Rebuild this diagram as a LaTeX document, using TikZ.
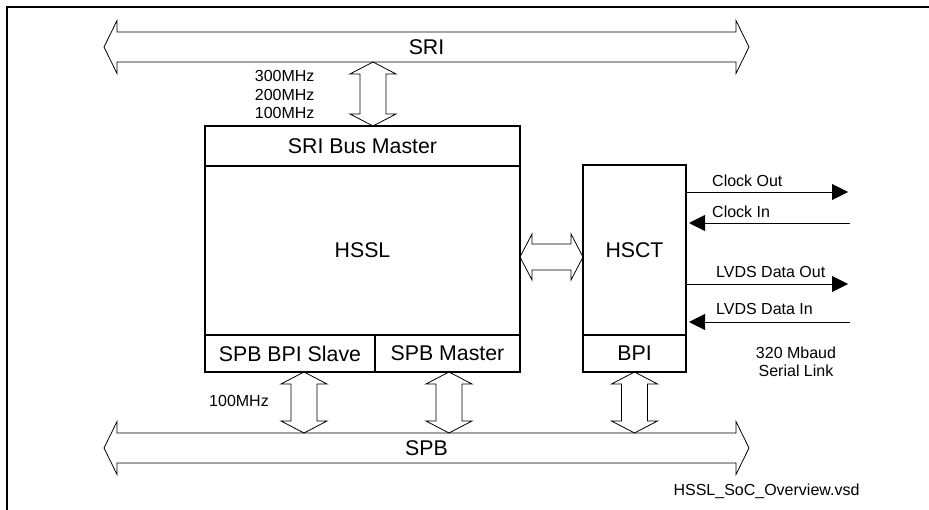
\documentclass[tikz,border=0pt]{standalone}
\usepackage{fontspec}
\setmainfont{Liberation Sans}
\usepackage{tikz}
\usetikzlibrary{positioning,calc,arrows.meta}

\begin{document}
\begin{tikzpicture}[
  x=1pt, y=-1pt,
  every node/.style={font=\fontsize{16}{18.5}\selectfont},
  big/.style={font=\fontsize{21.3}{25}\selectfont},
  box/.style={draw, line width=1.5pt, inner sep=0pt, outer sep=0pt, big},
  bus/.style={inner sep=0pt, outer sep=0pt, minimum width=619pt, minimum height=30pt, big},
  blockarrow/.style={draw, line width=0.8pt, line join=miter},
  sig/.style={line width=0.9pt, -{Triangle[length=16pt, width=16pt]}},
  frame/.style={line width=1.5pt}
]
  \useasboundingbox (0,0) rectangle (929,510);
  \draw[frame] (7,510) -- (7,7) -- (929,7);

  % buses
  \node[bus] (sri) at (426.5,47)  {SRI};
  \node[bus] (spb) at (426.5,448) {SPB};
  \foreach \b in {sri,spb}
    \draw[blockarrow] (\b.north west) -- (\b.north east) -- ++(0,-11.5)
      -- ($(\b.east)+(13,0)$) -- ($(\b.south east)+(0,11.5)$) -- (\b.south east)
      -- (\b.south west) -- ++(0,11.5) -- ($(\b.west)+(-13,0)$)
      -- ($(\b.north west)+(0,-11.5)$) -- cycle;

  % HSSL module
  \node[box, minimum width=315pt, minimum height=40pt]  (sbm) at (362.5,146) {SRI Bus Master};
  \node[box, minimum width=315pt, minimum height=169pt, below=0pt of sbm] (hssl) {HSSL};
  \node[box, minimum width=170pt, minimum height=37pt, anchor=north west] (sbs) at (hssl.south west) {SPB BPI Slave};
  \node[box, minimum width=145pt, minimum height=37pt, right=0pt of sbs] (sbmst) {SPB Master};

  % HSCT module
  \node[box, minimum width=103pt, minimum height=170pt] (hsct) at (634.5,250) {HSCT};
  \node[box, minimum width=103pt, minimum height=37pt, below=0pt of hsct] (bpi) {BPI};

  % bus connections
  \coordinate (b0) at ($(sbm.north)+(10.5,0)$);
  \coordinate (t0) at (sri.south -| b0);
  \coordinate (t1) at ($(sbs.south)+(14,0)$);
  \coordinate (t2) at ($(sbmst.south)+(1.5,0)$);
  \coordinate (t3) at (bpi.south);
  \foreach \i in {1,2,3} \coordinate (b\i) at (spb.north -| t\i);
  \foreach \i in {0,...,3}
    \draw[blockarrow] (t\i) -- ++(-23,12) -- ++(10,0) -- ($(b\i)+(-13,-12)$) -- ++(-10,0)
      -- (b\i) -- ++(23,-12) -- ++(-10,0) -- ($(t\i)+(13,12)$) -- ++(10,0) -- cycle;

  \coordinate (lnk) at (551,257);
  \coordinate (l) at (hssl.east |- lnk);
  \coordinate (r) at (hsct.west |- lnk);
  \draw[blockarrow] (l) -- ++(12,-23) -- ++(0,10) -- ($(r)+(-12,-13)$) -- ++(0,-10)
    -- (r) -- ++(-12,23) -- ++(0,-10) -- ($(l)+(12,13)$) -- ++(0,10) -- cycle;

  \node[align=right, anchor=east] (sfreq) at (318,94.5) {300MHz\\200MHz\\100MHz};
  \node (pfreq) at (239,401) {100MHz};

  % serial link
  \coordinate (co) at (848,192);
  \coordinate (ci) at (850,223);
  \coordinate (do) at (848,284);
  \coordinate (di) at (850,322);
  \draw[sig] (hsct.east |- co) -- (co);
  \draw[sig] (ci) -- ([xshift=3pt]hsct.east |- ci);
  \draw[sig] (hsct.east |- do) -- (do);
  \draw[sig] (di) -- ([xshift=3pt]hsct.east |- di);
  \node[anchor=west, inner sep=0pt] (col) at (712,181) {Clock Out};
  \node[anchor=west, inner sep=0pt] (cil) at (712,212) {Clock In};
  \node[anchor=west, inner sep=0pt] (dol) at (716,272) {LVDS Data Out};
  \node[anchor=west, inner sep=0pt] (dil) at (716,309) {LVDS Data In};
  \node[align=center] (rate) at (796,362) {320 Mbaud\\Serial Link};

  \node (file) at (766.5,491) {HSSL\_SoC\_Overview.vsd};
\end{tikzpicture}
\end{document}
